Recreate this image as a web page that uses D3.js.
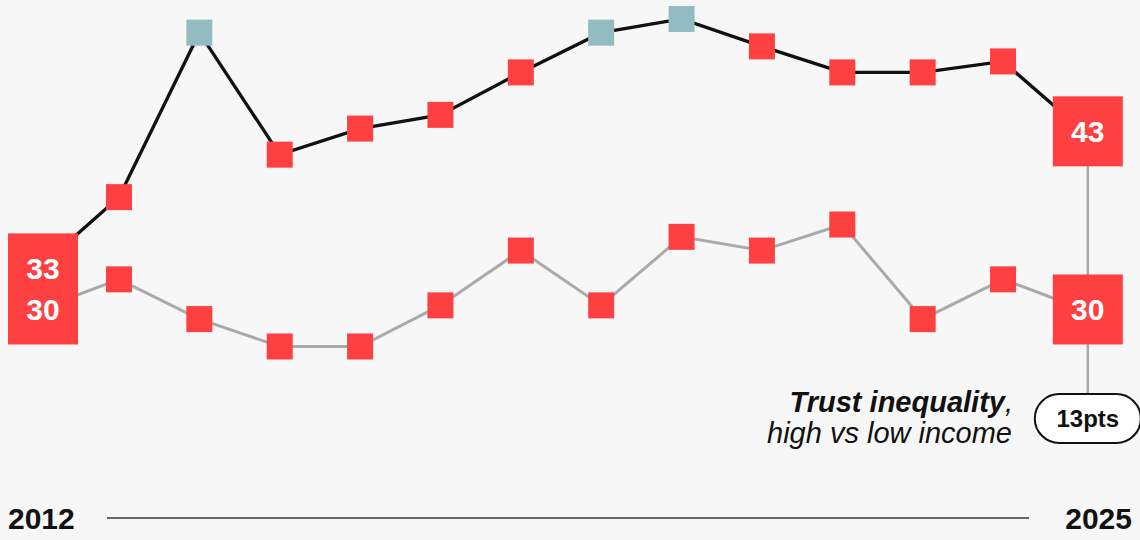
<!DOCTYPE html>
<html>
<head>
<meta charset="utf-8">
<script src="https://cdn.jsdelivr.net/npm/d3@7"></script>
<style>
  html, body { margin: 0; padding: 0; background: #f7f7f7; }
  svg { display: block; font-family: "Liberation Sans", Arial, Helvetica, sans-serif; }
</style>
</head>
<body>
<svg id="chart" width="1140" height="540"></svg>
<script>
// Survey years
const years = [2012, 2013, 2014, 2015, 2016, 2017, 2018, 2019, 2020, 2021, 2022, 2023, 2024, 2025];
// Share trusting, high-income respondents
const highIncome = [33, 38.2, 50.2, 41.3, 43.2, 44.2, 47.3, 50.2, 51.2, 49.2, 47.3, 47.3, 48.1, 43];
// Share trusting, low-income respondents
const lowIncome = [30, 32.2, 29.3, 27.3, 27.3, 30.3, 34.3, 30.3, 35.3, 34.3, 36.2, 29.3, 32.2, 30];
// Years where high-income trust reached 50 or more
const highlightYears = [2014, 2019, 2020];

const RED = "#ff4040", TEAL = "#93bbc2", GREY = "#aaaaaa";
const fmt = d3.format(".0f");

const svg = d3.select("#chart");

const x = d3.scaleLinear().domain([years[0], years[years.length - 1]]).range([38.6, 1083.4]);
const y = d3.scaleLinear().domain([25, 52]).range([378, 8]);

const hi = years.map((yr, i) => ({ year: yr, v: highIncome[i] }));
const lo = years.map((yr, i) => ({ year: yr, v: lowIncome[i] }));

const line = d3.line().x(d => x(d.year)).y(d => y(d.v));

// connecting lines
svg.append("path").datum(lo).attr("d", line)
  .attr("fill", "none").attr("stroke", GREY).attr("stroke-width", 3);
svg.append("path").datum(hi).attr("d", line)
  .attr("fill", "none").attr("stroke", "#111").attr("stroke-width", 3.3);

// square markers for the in-between years
const M = 26;
const inner = d => d.year !== years[0] && d.year !== years[years.length - 1];
svg.append("g").selectAll("rect").data(lo.filter(inner)).join("rect")
  .attr("x", d => x(d.year) - M / 2).attr("y", d => y(d.v) - M / 2)
  .attr("width", M).attr("height", M).attr("fill", RED);
svg.append("g").selectAll("rect").data(hi.filter(inner)).join("rect")
  .attr("x", d => x(d.year) - M / 2).attr("y", d => y(d.v) - M / 2)
  .attr("width", M).attr("height", M)
  .attr("fill", d => highlightYears.includes(d.year) ? TEAL : RED);

const first = 0, last = years.length - 1;
const boxW = 70, boxShift = 4.4;

// connector from the end labels down to the gap pill
const gapX = x(years[last]) + boxShift;
const pillCY = 418.5;
svg.append("line")
  .attr("x1", gapX).attr("x2", gapX)
  .attr("y1", y(highIncome[last])).attr("y2", pillCY)
  .attr("stroke", GREY).attr("stroke-width", 2.5);

// start label: both values in one box
const sx = x(years[first]) + boxShift;
svg.append("rect")
  .attr("x", sx - boxW / 2).attr("y", y(highIncome[first]) - 35)
  .attr("width", boxW).attr("height", y(lowIncome[first]) - y(highIncome[first]) + 70)
  .attr("fill", RED);
[highIncome[first], lowIncome[first]].forEach(v => {
  svg.append("text").attr("x", sx).attr("y", y(v)).attr("dy", "0.36em")
    .attr("text-anchor", "middle").attr("fill", "#fff")
    .attr("font-weight", "bold").attr("font-size", 30).text(fmt(v));
});

// end labels: one box per value
[highIncome[last], lowIncome[last]].forEach(v => {
  svg.append("rect")
    .attr("x", gapX - boxW / 2).attr("y", y(v) - boxW / 2)
    .attr("width", boxW).attr("height", boxW).attr("fill", RED);
  svg.append("text").attr("x", gapX).attr("y", y(v)).attr("dy", "0.36em")
    .attr("text-anchor", "middle").attr("fill", "#fff")
    .attr("font-weight", "bold").attr("font-size", 30).text(fmt(v));
});

// gap pill
const gap = highIncome[last] - lowIncome[last];
svg.append("rect")
  .attr("x", gapX - 53).attr("y", pillCY - 24.5)
  .attr("width", 106).attr("height", 49).attr("rx", 24.5)
  .attr("fill", "#fff").attr("stroke", "#111").attr("stroke-width", 2);
svg.append("text").attr("x", gapX).attr("y", pillCY).attr("dy", "0.36em")
  .attr("text-anchor", "middle").attr("font-weight", "bold").attr("font-size", 24)
  .attr("fill", "#111").text(fmt(gap) + "pts");

// annotation
const note = svg.append("text").attr("text-anchor", "end").attr("font-size", 29)
  .attr("font-style", "italic").attr("fill", "#111");
note.append("tspan").attr("x", 1013).attr("y", 412)
  .attr("font-weight", "bold").text("Trust inequality");
note.append("tspan").text(",");
note.append("tspan").attr("x", 1012).attr("y", 443).text("high vs low income");

// time axis
svg.append("text").attr("x", 8).attr("y", 529).attr("font-weight", "bold")
  .attr("font-size", 30).attr("fill", "#111").text(years[first]);
svg.append("text").attr("x", 1132).attr("y", 529).attr("text-anchor", "end")
  .attr("font-weight", "bold").attr("font-size", 30).attr("fill", "#111").text(years[last]);
svg.append("line").attr("x1", 107).attr("x2", 1029).attr("y1", 518).attr("y2", 518)
  .attr("stroke", "#666").attr("stroke-width", 2);
</script>
</body>
</html>
